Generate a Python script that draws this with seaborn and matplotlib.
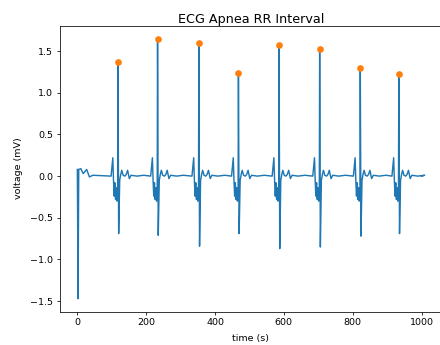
import numpy as np
import pandas as pd
from matplotlib import pyplot as plt
import seaborn as sns

# R peaks
r_times = [118, 233, 353, 468, 586, 704, 822, 934]
r_peaks = [1.37, 1.65, 1.60, 1.24, 1.57, 1.53, 1.30, 1.22]
s_troughs = [-0.69, -0.71, -0.84, -0.69, -0.87, -0.85, -0.72, -0.69]

# shape of one beat around its R peak (offsets in s, voltage in mV)
pre_offsets = [-20, -15, -13, -11, -9, -7, -5, -3, -1]
pre_values = [0.0, 0.22, -0.05, -0.24, -0.08, -0.28, -0.14, -0.3, -0.2]
s_offset = 2
post_offsets = [5, 8, 11, 15, 20, 24, 28, 33, 38, 55, 75]
post_values = [-0.05, 0.02, 0.07, 0.01, 0.0, 0.02, 0.07, -0.03, 0.01, 0.0, 0.01]

# start of the recording and the end point
start_times = [0, 2, 4, 10, 17, 27, 35, 45]
start_values = [0.08, -1.47, 0.08, 0.09, 0.03, 0.08, -0.01, 0.01]
end_time = 1000
end_value = 0.0


def build_signal():
    times = list(start_times)
    values = list(start_values)
    for r, peak, trough in zip(r_times, r_peaks, s_troughs):
        times += [r + o for o in pre_offsets]
        values += pre_values
        times += [r, r + s_offset]
        values += [peak, trough]
        times += [r + o for o in post_offsets]
        values += post_values
    times.append(end_time)
    values.append(end_value)
    return pd.DataFrame({'time': times, 'voltage': values})


signal = build_signal()
peaks = pd.DataFrame({'time': r_times, 'voltage': r_peaks})

fig = plt.figure(figsize=(440 / 68.75, 345 / 68.75), dpi=68.75)
ax = fig.add_axes([60 / 440, 33.3 / 345, 382 / 440, 286.2 / 345])
sns.lineplot(data=signal, x='time', y='voltage', ax=ax, color='#1f77b4',
             linewidth=1.5, estimator=None, sort=False)
sns.scatterplot(data=peaks, x='time', y='voltage', ax=ax, color='#ff7f0e',
                s=49, linewidth=0, zorder=3)
ax.set_title('ECG Apnea RR Interval', fontsize=13.3, pad=3)
ax.set_xlabel('time (s)', labelpad=7)
ax.set_ylabel('voltage (mV)', labelpad=8)
ax.set_xticks([0, 200, 400, 600, 800, 1000])
ax.set_yticks([-1.5, -1.0, -0.5, 0.0, 0.5, 1.0, 1.5])
plt.savefig('out.png', dpi=68.75)
